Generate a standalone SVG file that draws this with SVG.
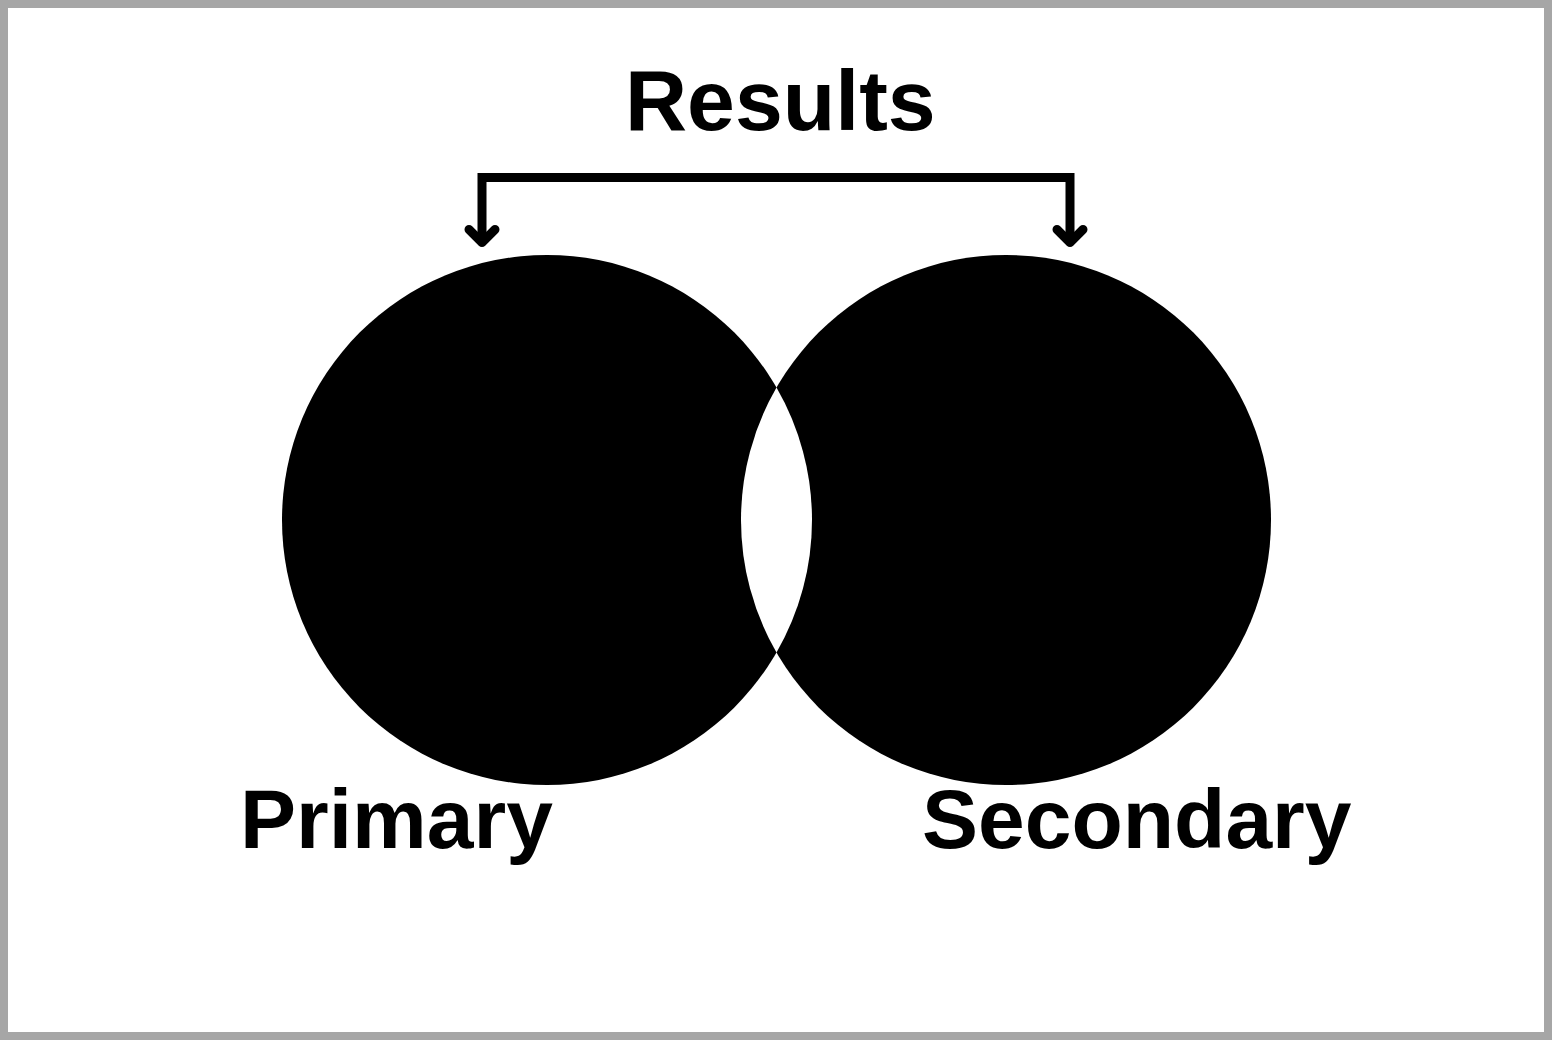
<svg xmlns="http://www.w3.org/2000/svg" width="1552" height="1040" viewBox="0 0 1552 1040">
  <style>
    .lbl { font-family: "Liberation Sans", Arial, Helvetica, sans-serif; font-weight: bold; font-size: 84px; fill: #000; }
    .title { font-size: 86px; }
    .set { fill: #000; }
    .conn { fill: none; stroke: #000; stroke-width: 9; }
    .head { fill: none; stroke: #000; stroke-width: 9; stroke-linecap: round; stroke-linejoin: round; }
  </style>
  <rect x="0" y="0" width="1552" height="1040" fill="#ffffff"/>
  <rect x="4" y="4" width="1544" height="1032" fill="none" stroke="#a6a6a6" stroke-width="8"/>
  <g id="title">
    <text class="lbl title" x="625" y="130">Results</text>
  </g>
  <g id="primary">
    <circle class="set" cx="547" cy="520" r="265"/>
    <text class="lbl" x="240" y="848">Primary</text>
  </g>
  <g id="secondary">
    <circle class="set" cx="1006" cy="520" r="265"/>
    <text class="lbl" x="922" y="848">Secondary</text>
  </g>
  <g id="overlap">
    <path fill="#ffffff" d="M776.5,387.5 A265,265 0 0 1 776.5,652.5 A265,265 0 0 1 776.5,387.5 Z"/>
  </g>
  <g id="connectors">
    <path class="conn" d="M482,243 V177.5 H1070 V243"/>
    <polyline class="head" points="469,229.5 482,242.5 495,229.5"/>
    <polyline class="head" points="1057,229.5 1070,242.5 1083,229.5"/>
  </g>
</svg>
